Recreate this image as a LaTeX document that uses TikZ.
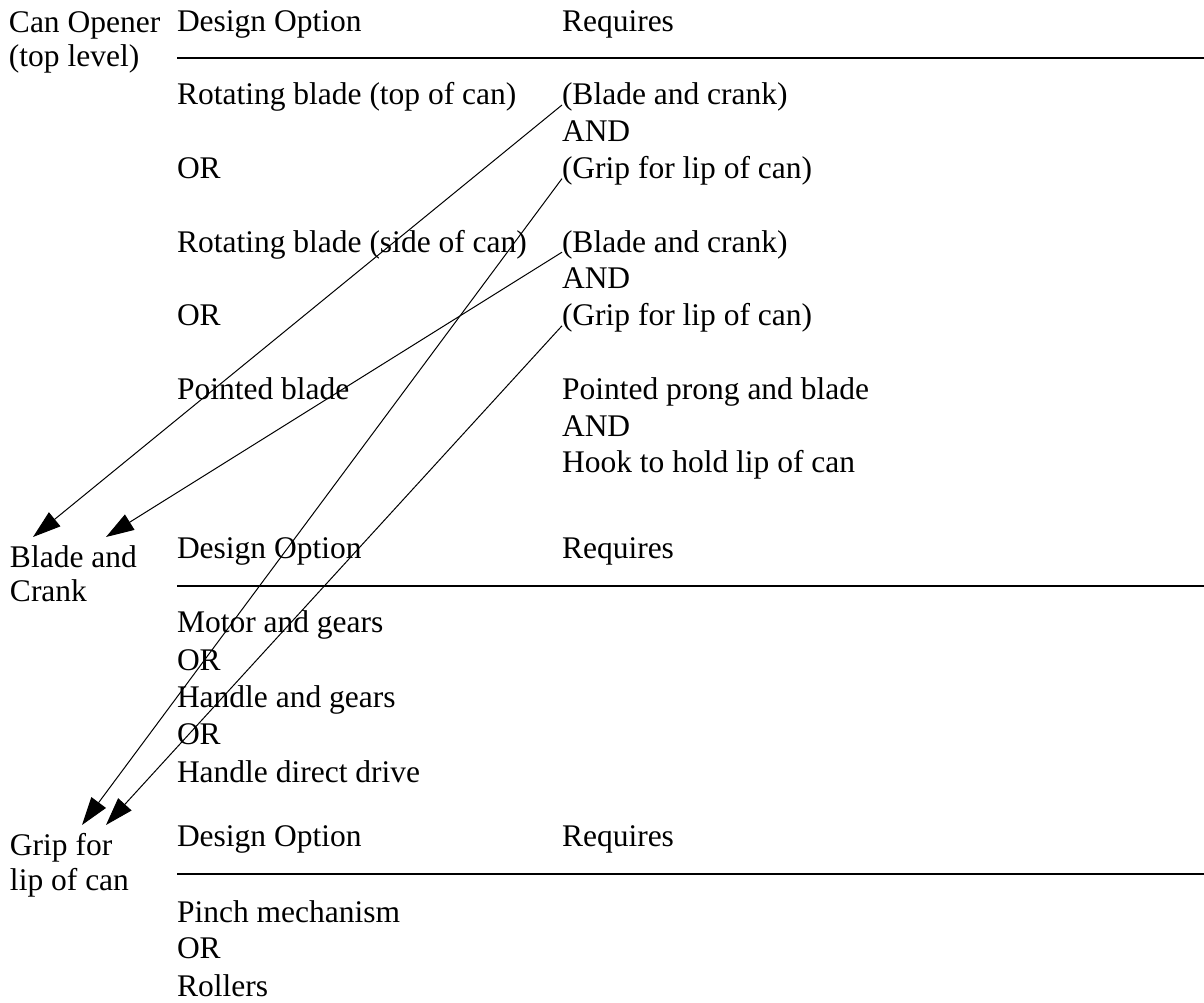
\documentclass[tikz,border=0pt]{standalone}
\usepackage{fontspec}
\setmainfont{Liberation Serif}
\usetikzlibrary{arrows.meta}

\definecolor{drawColor}{RGB}{0,0,0}
\definecolor{fillColor}{RGB}{255,255,255}
\tikzset{
  txt/.style={text=drawColor,anchor=base west,inner sep=0pt,outer sep=0pt,font=\fontsize{15.75}{17}\selectfont},
  rule/.style={draw=drawColor,line width=1pt},
  link/.style={draw=drawColor,line width=0.5pt,-{Triangle[length=14pt,width=9pt]}}
}

\begin{document}
\begin{tikzpicture}[x=0.5pt,y=0.5pt]
\path[use as bounding box,fill=fillColor] (0,0) rectangle (1204,1002);

% can opener, top level
\node[txt] (opener) at (  9,969) {Can Opener};
\node[txt] (openerSub) at (  9,935) {(top level)};
\node[txt] (optHd1) at (177,970) {Design Option};
\node[txt] (reqHd1) at (562,970) {Requires};
\path[rule] (177,944) -- (1204,944);

\node[txt] (optTop) at (177,897.0) {Rotating blade (top of can)};
\node[txt] (orTop) at (177,823.4) {OR};
\node[txt] (optSide) at (177,749.8) {Rotating blade (side of can)};
\node[txt] (orSide) at (177,676.2) {OR};
\node[txt] (optPoint) at (177,602.6) {Pointed blade};

\node[txt] (reqTopBC) at (562,897.0) {(Blade and crank)};
\node[txt] (reqTopAnd) at (562,860.2) {AND};
\node[txt] (reqTopGrip) at (562,823.4) {(Grip for lip of can)};
\node[txt] (reqSideBC) at (562,749.8) {(Blade and crank)};
\node[txt] (reqSideAnd) at (562,713.0) {AND};
\node[txt] (reqSideGrip) at (562,676.2) {(Grip for lip of can)};
\node[txt] (reqPoint) at (562,602.6) {Pointed prong and blade};
\node[txt] (reqPointAnd) at (562,565.8) {AND};
\node[txt] (reqHook) at (562,529.0) {Hook to hold lip of can};

% blade and crank
\node[txt] (blade) at ( 10,434) {Blade and};
\node[txt] (bladeSub) at ( 10,400) {Crank};
\node[txt] (optHd2) at (177,443) {Design Option};
\node[txt] (reqHd2) at (562,443) {Requires};
\path[rule] (177,416) -- (1204,416);

\node[txt] (optMotor) at (177,369) {Motor and gears};
\node[txt] (orMotor) at (177,332) {OR};
\node[txt] (optHandle) at (177,295) {Handle and gears};
\node[txt] (orHandle) at (177,258) {OR};
\node[txt] (optDirect) at (177,220) {Handle direct drive};

% grip for lip of can
\node[txt] (grip) at ( 10,147) {Grip for};
\node[txt] (gripSub) at ( 10,112) {lip of can};
\node[txt] (optHd3) at (177,156) {Design Option};
\node[txt] (reqHd3) at (562,156) {Requires};
\path[rule] (177,128) -- (1204,128);

\node[txt] (optPinch) at (177,80) {Pinch mechanism};
\node[txt] (orPinch) at (177,44) {OR};
\node[txt] (optRoll) at (177,6) {Rollers};

% arrow ends
\coordinate (bladeTipA) at ( 33,465);
\coordinate (bladeTipB) at (106,465);
\coordinate (gripTipA) at ( 82,177);
\coordinate (gripTipB) at (106,177);

\draw[link] (reqTopBC.base west) -- (bladeTipA);
\draw[link] (reqTopGrip.base west) -- (gripTipA);
\draw[link] (reqSideBC.base west) -- (bladeTipB);
\draw[link] (reqSideGrip.base west) -- (gripTipB);
\end{tikzpicture}
\end{document}
